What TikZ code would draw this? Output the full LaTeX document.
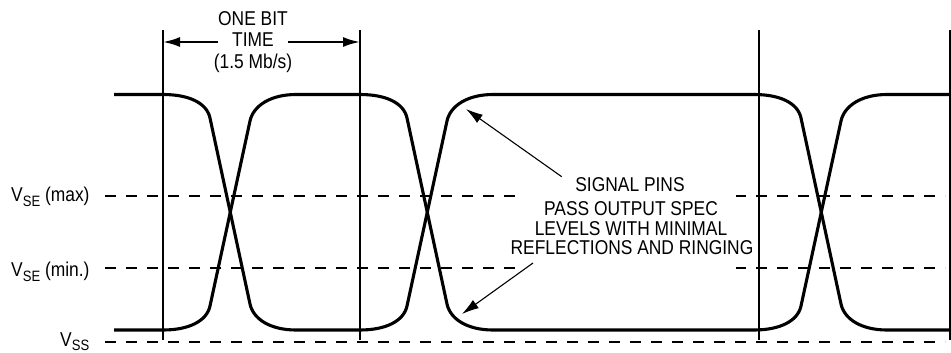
\documentclass[tikz,border=0pt]{standalone}
\usepackage{fontspec}
\setmainfont[FakeStretch=0.87]{Liberation Sans}
\usetikzlibrary{arrows.meta}
\newcommand\lowsub[1]{\raisebox{-4.5pt}{\fontsize{15}{15}\selectfont #1}}
\begin{document}
\begin{tikzpicture}[x=1pt,y=-1pt,
  wave/.style={line width=3.1pt, line join=round},
  gridline/.style={line width=2.2pt},
  lvl/.style={line width=2.2pt, dash pattern=on 10.5pt off 10.5pt},
  lbl/.style={font=\fontsize{20}{21.3}\selectfont, inner sep=0pt, align=center},
  note/.style={font=\fontsize{20}{21.3}\selectfont, inner sep=0pt, anchor=base},
  ptr/.style={line width=1.1pt, -{Latex[length=17pt,width=10pt]}},
  dimarrow/.style={line width=2.2pt, -{Latex[length=17pt,width=10pt]}}]
\useasboundingbox (0,0) rectangle (951,353);
% bit boundaries
\draw[gridline] (163,30) -- (163,340);
\draw[gridline] (360,30) -- (360,340);
\draw[gridline] (759,30) -- (759,340);
\draw[gridline] (950,30) -- (950,340);
% threshold levels
\draw[lvl] (105,196) -- (945,196);
\draw[lvl] (105,268) -- (945,268);
\draw[lvl] (105,342) -- (945,342);
% white ground behind the note
\fill[white] (519,186) rectangle (736,276);
% waveform A
\draw[wave] (114,94.5) -- (163,94.5)
  .. controls (188,94.5) and (206.6,102.4) .. (210,118) -- (250,304)
  .. controls (253.4,319.6) and (271,330) .. (296,330) -- (360,330)
  .. controls (385,330) and (403.6,321.6) .. (407,306) -- (447,121)
  .. controls (450.4,105.4) and (468,94.5) .. (493,94.5) -- (754,94.5)
  .. controls (779,94.5) and (797.6,102.4) .. (801,118) -- (841,304)
  .. controls (844.4,319.6) and (862,330) .. (887,330) -- (951,330);
% waveform B
\draw[wave] (114,330) -- (163,330)
  .. controls (188,330) and (206.6,321.6) .. (210,306) -- (250,121)
  .. controls (253.4,105.4) and (271,94.5) .. (296,94.5) -- (360,94.5)
  .. controls (385,94.5) and (403.6,102.4) .. (407,118) -- (447,304)
  .. controls (450.4,319.6) and (468,330) .. (493,330) -- (754,330)
  .. controls (779,330) and (797.6,321.6) .. (801,306) -- (841,121)
  .. controls (844.4,105.4) and (862,94.5) .. (887,94.5) -- (951,94.5);
% one bit time
\node[lbl] (obt) at (253,42) {ONE BIT\\TIME\\(1.5 Mb/s)};
\coordinate (tl) at (218,42);
\coordinate (tr) at (288,42);
\coordinate (bl) at (163,42);
\coordinate (br) at (360,42);
\draw[dimarrow] (tl) -- (bl);
\draw[dimarrow] (tr) -- (br);
% signal pins note
\node[note] (sig1) at (630,191) {SIGNAL PINS};
\node[note] (sig2) at (631,215.2) {PASS OUTPUT SPEC};
\node[note] (sig3) at (631,235.2) {LEVELS WITH MINIMAL};
\node[note] (sig4) at (632,254.8) {REFLECTIONS AND RINGING};
\coordinate (s1) at (561.7,176.7);
\coordinate (p1) at (466,109);
\coordinate (s2) at (533,263);
\coordinate (p2) at (462,314);
\draw[ptr] (s1) -- (p1);
\draw[ptr] (s2) -- (p2);
% level labels
\node[lbl, anchor=base west] (vmax) at (11,201.7) {V\lowsub{SE} (max)};
\node[lbl, anchor=base west] (vmin) at (11,276.7) {V\lowsub{SE} (min.)};
\node[lbl, anchor=base west] (vss) at (60,346) {V\lowsub{SS}};
\end{tikzpicture}
\end{document}
